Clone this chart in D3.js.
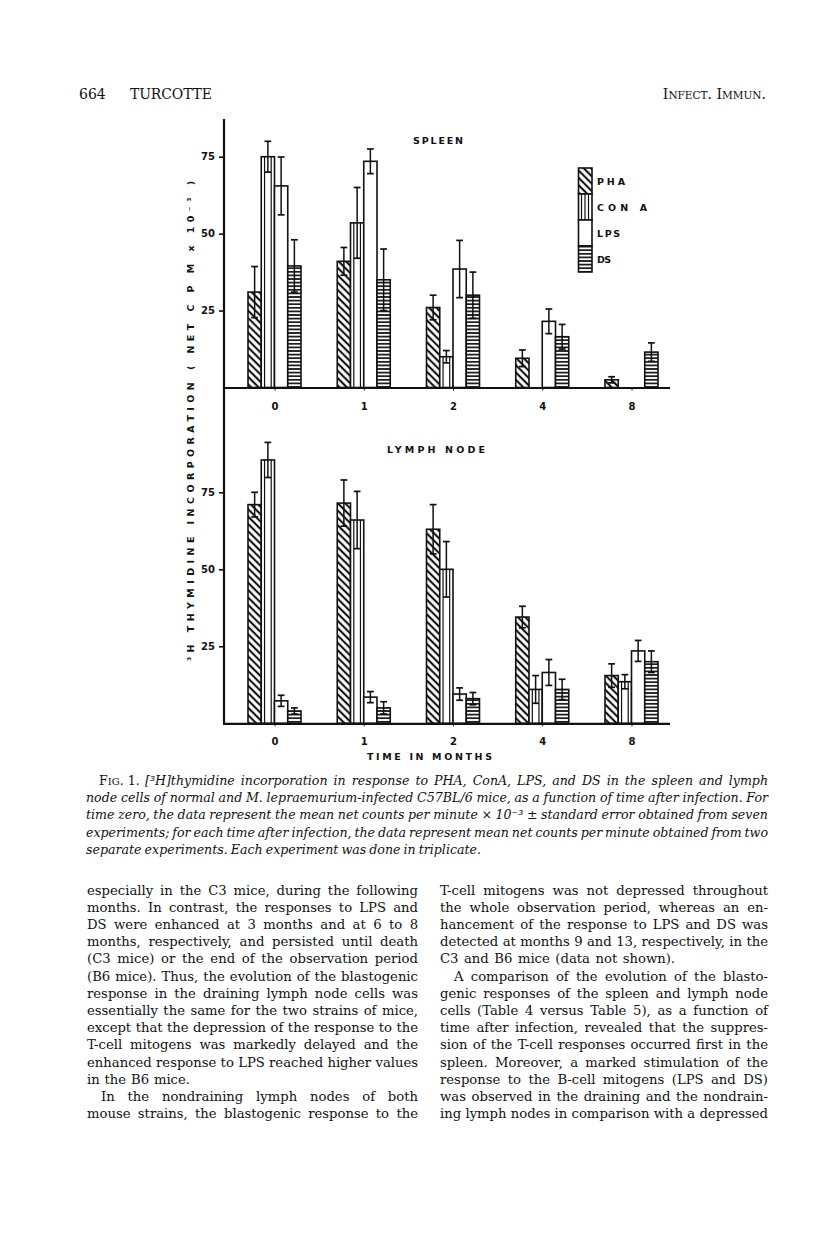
<!DOCTYPE html>
<html>
<head>
<meta charset="utf-8">
<title>Fig 1 - thymidine incorporation</title>
<script src="https://cdn.jsdelivr.net/npm/d3@7"></script>
<style>
  body { margin: 0; background: #fff; }
  .lbl { font-family: "DejaVu Sans", sans-serif; font-weight: bold; fill: #111; }
  .serif { font-family: "DejaVu Serif", serif; fill: #111; }
</style>
</head>
<body>
<script>
// months after infection (x categories) and mitogens (series)
var months = ["0", "1", "2", "4", "8"];
var mitogens = ["PHA", "CON A", "LPS", "DS"];
var yTicks = [25, 50, 75];

// spleen, net cpm x 10^-3 (0 = no bar drawn)
var spleenPHA  = [31, 41, 26, 9.5, 2.5];
var spleenConA = [75, 53.5, 10, 0, 0];
var spleenLPS  = [65.5, 73.5, 38.5, 21.5, 0];
var spleenDS   = [39.5, 35, 30, 16.5, 11.5];
var spleenPHAErr  = [8.3, 4.5, 4, 2.7, 1];
var spleenConAErr = [5, 11.5, 2, 0, 0];
var spleenLPSErr  = [9.4, 4, 9.3, 4, 0];
var spleenDSErr   = [8.5, 10, 7.5, 4, 3];

// lymph node
var lymphPHA  = [71, 71.5, 63, 34.5, 15.5];
var lymphConA = [85.5, 66, 50, 11, 13.5];
var lymphLPS  = [7.3, 8.5, 9.5, 16.5, 23.5];
var lymphDS   = [4, 5, 8, 11, 20];
var lymphPHAErr  = [4, 7.5, 8, 3.5, 3.8];
var lymphConAErr = [5.7, 9.3, 9, 4.5, 2.3];
var lymphLPSErr  = [1.8, 1.8, 2, 4.2, 3.4];
var lymphDSErr   = [1, 2, 2, 3.3, 3.5];

var svg = d3.select("body").append("svg").attr("width", 816).attr("height", 1243);
var defs = svg.append("defs");

// hatch patterns
var pha = defs.append("pattern").attr("id", "pha").attr("patternUnits", "userSpaceOnUse")
  .attr("width", 5.2).attr("height", 5.2).attr("patternTransform", "rotate(-45)");
pha.append("rect").attr("width", 5.2).attr("height", 5.2).attr("fill", "#fff");
pha.append("line").attr("x1", 2.6).attr("x2", 2.6).attr("y1", 0).attr("y2", 5.2)
  .attr("stroke", "#111").attr("stroke-width", 2.1);

var ds = defs.append("pattern").attr("id", "ds").attr("patternUnits", "userSpaceOnUse")
  .attr("width", 10).attr("height", 3.6);
ds.append("rect").attr("width", 10).attr("height", 3.6).attr("fill", "#fff");
ds.append("line").attr("x1", 0).attr("x2", 10).attr("y1", 1.8).attr("y2", 1.8)
  .attr("stroke", "#111").attr("stroke-width", 1.7);

var fills = { "PHA": "url(#pha)", "CON A": "#fff", "LPS": "#fff", "DS": "url(#ds)" };

var xPos = d3.scalePoint().domain(months).range([274.5, 631.5]);
var xSub = d3.scaleBand().domain(mitogens).range([-26.5, 26.5]);
var yTop = d3.scaleLinear().domain([0, 75]).range([387.5, 156.7]);
var yBot = d3.scaleLinear().domain([0, 75]).range([723.3, 492.3]);

function drawPanel(y, vals, errs) {
  var rows = [];
  months.forEach(function (m, i) {
    mitogens.forEach(function (s, j) {
      rows.push({ m: m, s: s, v: vals[j][i], e: errs[j][i] });
    });
  });
  rows = rows.filter(function (d) { return d.v > 0; });
  var g = svg.append("g");
  var bw = xSub.bandwidth();

  g.selectAll("rect.bar").data(rows).join("rect").attr("class", "bar")
    .attr("x", function (d) { return xPos(d.m) + xSub(d.s); })
    .attr("y", function (d) { return y(d.v); })
    .attr("width", bw)
    .attr("height", function (d) { return y(0) - y(d.v); })
    .attr("fill", function (d) { return fills[d.s]; })
    .attr("stroke", "#111").attr("stroke-width", 1.6);

  // inner rules of the Con A bars
  var conA = rows.filter(function (d) { return d.s === "CON A"; });
  [3.3, bw - 3.3].forEach(function (off) {
    g.selectAll(null).data(conA).join("line")
      .attr("x1", function (d) { return xPos(d.m) + xSub(d.s) + off; })
      .attr("x2", function (d) { return xPos(d.m) + xSub(d.s) + off; })
      .attr("y1", function (d) { return y(d.v); })
      .attr("y2", y(0))
      .attr("stroke", "#111").attr("stroke-width", 1.2);
  });

  // error bars
  var eb = rows.filter(function (d) { return d.e > 0; });
  var cx = function (d) { return xPos(d.m) + xSub(d.s) + bw / 2; };
  g.selectAll(null).data(eb).join("line")
    .attr("x1", cx).attr("x2", cx)
    .attr("y1", function (d) { return y(d.v + d.e); })
    .attr("y2", function (d) { return y(Math.max(0, d.v - d.e)); })
    .attr("stroke", "#111").attr("stroke-width", 1.5);
  [1, -1].forEach(function (sgn) {
    g.selectAll(null).data(eb).join("line")
      .attr("x1", function (d) { return cx(d) - 3.4; })
      .attr("x2", function (d) { return cx(d) + 3.4; })
      .attr("y1", function (d) { return y(Math.max(0, d.v + sgn * d.e)); })
      .attr("y2", function (d) { return y(Math.max(0, d.v + sgn * d.e)); })
      .attr("stroke", "#111").attr("stroke-width", 1.7);
  });

  // y ticks
  var ya = svg.append("g").attr("transform", "translate(224,0)")
    .call(d3.axisLeft(y).tickValues(yTicks).tickSize(5).tickPadding(4));
  ya.select(".domain").remove();
  ya.selectAll("line").attr("stroke", "#111").attr("stroke-width", 1.6);
  ya.selectAll("text").attr("class", "lbl").style("font-size", "10px").attr("fill", "#111");

  // x axis
  var xa = svg.append("g").attr("transform", "translate(0," + y(0) + ")")
    .call(d3.axisBottom(xPos).tickSize(3).tickPadding(12));
  xa.select(".domain").remove();
  xa.selectAll("line").attr("stroke", "#111").attr("stroke-width", 1);
  xa.selectAll("text").attr("class", "lbl").style("font-size", "10px").attr("fill", "#111");
  svg.append("line").attr("x1", 223).attr("x2", 670)
    .attr("y1", y(0) + 0.5).attr("y2", y(0) + 0.5)
    .attr("stroke", "#111").attr("stroke-width", 2.2);
}

drawPanel(yTop, [spleenPHA, spleenConA, spleenLPS, spleenDS],
  [spleenPHAErr, spleenConAErr, spleenLPSErr, spleenDSErr]);
drawPanel(yBot, [lymphPHA, lymphConA, lymphLPS, lymphDS],
  [lymphPHAErr, lymphConAErr, lymphLPSErr, lymphDSErr]);

// y axis line
svg.append("line").attr("x1", 224).attr("x2", 224).attr("y1", 119).attr("y2", 724.5)
  .attr("stroke", "#111").attr("stroke-width", 2.2);

// panel titles
svg.append("text").attr("class", "lbl").attr("x", 413).attr("y", 144)
  .attr("textLength", 50).attr("lengthAdjust", "spacing").style("font-size", "9.5px").text("SPLEEN");
svg.append("text").attr("class", "lbl").attr("x", 387).attr("y", 453)
  .attr("textLength", 98).attr("lengthAdjust", "spacing").style("font-size", "9.5px").text("LYMPH NODE");
svg.append("text").attr("class", "lbl").attr("x", 367).attr("y", 760)
  .attr("textLength", 125).attr("lengthAdjust", "spacing").style("font-size", "9.5px").text("TIME IN MONTHS");

// y label
svg.append("text").attr("class", "lbl")
  .attr("transform", "translate(193.5,421) rotate(-90)")
  .attr("text-anchor", "middle")
  .attr("textLength", 480).attr("lengthAdjust", "spacing")
  .style("font-size", "9.5px")
  .text("³H THYMIDINE INCORPORATION ( NET C P M x 10⁻³ )");

// legend
var lg = svg.append("g");
var legW = [
  { key: "PHA", label: "PHA", w: 28 },
  { key: "CON A", label: "CON  A", w: 50 },
  { key: "LPS", label: "LPS", w: 23 },
  { key: "DS", label: "DS", w: 14 }
];
legW.forEach(function (d, i) {
  var y0 = 168 + i * 26;
  lg.append("rect").attr("x", 578.5).attr("y", y0).attr("width", 13.5).attr("height", 26)
    .attr("fill", fills[d.key]).attr("stroke", "#111").attr("stroke-width", 1.6);
  if (d.key === "CON A") {
    [3, 6.5, 10].forEach(function (o) {
      lg.append("line").attr("x1", 578.5 + o).attr("x2", 578.5 + o).attr("y1", y0).attr("y2", y0 + 26)
        .attr("stroke", "#111").attr("stroke-width", 1.2);
    });
  }
  lg.append("text").attr("class", "lbl").attr("x", 597).attr("y", y0 + 17)
    .attr("textLength", d.w).attr("lengthAdjust", "spacing")
    .style("font-size", "9.5px").text(d.label);
});

// page header
var hdr = svg.append("g").attr("class", "serif").style("font-size", "14px");
hdr.append("text").attr("x", 79).attr("y", 99).text("664");
hdr.append("text").attr("x", 130).attr("y", 99).attr("textLength", 82).text("TURCOTTE");
var hr = hdr.append("text").attr("x", 766).attr("y", 99).attr("text-anchor", "end");
hr.append("tspan").text("I");
hr.append("tspan").style("font-size", "10.5px").text("NFECT");
hr.append("tspan").text(". I");
hr.append("tspan").style("font-size", "10.5px").text("MMUN");
hr.append("tspan").text(".");

function justify(sel, width) {
  sel.each(function () {
    var n = this.getComputedTextLength();
    var sp = (this.textContent.match(/ /g) || []).length;
    if (sp) d3.select(this).attr("word-spacing", ((width - n) / sp).toFixed(2));
  });
}

// caption
var cap = svg.append("g").attr("class", "serif").style("font-size", "12.6px");
var fig = cap.append("text").attr("x", 99).attr("y", 785);
fig.append("tspan").text("F");
fig.append("tspan").style("font-size", "10px").text("IG");
fig.append("tspan").text(". 1.");
var capLines = [
  { x: 145, text: "[³H]thymidine incorporation in response to PHA, ConA, LPS, and DS in the spleen and lymph", end: 768 },
  { x: 86, text: "node cells of normal and M. lepraemurium-infected C57BL/6 mice, as a function of time after infection. For", end: 768 },
  { x: 86, text: "time zero, the data represent the mean net counts per minute × 10⁻³ ± standard error obtained from seven", end: 768 },
  { x: 86, text: "experiments; for each time after infection, the data represent mean net counts per minute obtained from two", end: 768 },
  { x: 86, text: "separate experiments. Each experiment was done in triplicate.", end: 481 }
];
capLines.forEach(function (d, i) {
  var t = cap.append("text").attr("x", d.x).attr("y", 785 + i * 17.2)
    .style("font-style", "italic").text(d.text);
  justify(t, d.end - d.x);
});

// body text, two columns
var leftCol = [
  "especially in the C3 mice, during the following",
  "months. In contrast, the responses to LPS and",
  "DS were enhanced at 3 months and at 6 to 8",
  "months, respectively, and persisted until death",
  "(C3 mice) or the end of the observation period",
  "(B6 mice). Thus, the evolution of the blastogenic",
  "response in the draining lymph node cells was",
  "essentially the same for the two strains of mice,",
  "except that the depression of the response to the",
  "T-cell mitogens was markedly delayed and the",
  "enhanced response to LPS reached higher values",
  "in the B6 mice.",
  "In the nondraining lymph nodes of both",
  "mouse strains, the blastogenic response to the"
];
var rightCol = [
  "T-cell mitogens was not depressed throughout",
  "the whole observation period, whereas an en-",
  "hancement of the response to LPS and DS was",
  "detected at months 9 and 13, respectively, in the",
  "C3 and B6 mice (data not shown).",
  "A comparison of the evolution of the blasto-",
  "genic responses of the spleen and lymph node",
  "cells (Table 4 versus Table 5), as a function of",
  "time after infection, revealed that the suppres-",
  "sion of the T-cell responses occurred first in the",
  "spleen. Moreover, a marked stimulation of the",
  "response to the B-cell mitogens (LPS and DS)",
  "was observed in the draining and the nondrain-",
  "ing lymph nodes in comparison with a depressed"
];
var body = svg.append("g").attr("class", "serif").style("font-size", "13.2px");
function column(lines, x0, x1, indents, ends) {
  lines.forEach(function (s, i) {
    var x = x0 + (indents.indexOf(i) >= 0 ? 14 : 0);
    var t = body.append("text").attr("x", x).attr("y", 894.5 + i * 17.2).text(s);
    var end = ends[i] !== undefined ? ends[i] : x1;
    justify(t, end - x);
  });
}
column(leftCol, 87, 418, [12], { 11: 190 });
column(rightCol, 440, 768, [5], { 4: 675 });
</script>
</body>
</html>
